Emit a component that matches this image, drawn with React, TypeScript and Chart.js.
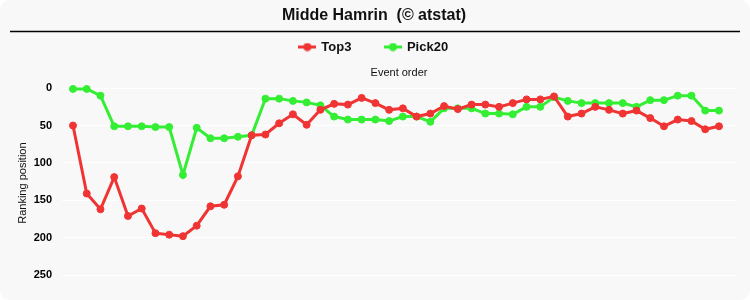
import React, { useEffect, useRef } from 'react';
import { Chart, registerables } from 'chart.js';

Chart.register(...registerables);

const chartTitle = 'Midde Hamrin  (© atstat)';
const xTitle = 'Event order';
const yTitle = 'Ranking position';

const events = [
  1, 2, 3, 4, 5, 6, 7, 8, 9, 10, 11, 12, 13, 14, 15, 16, 17, 18, 19, 20, 21, 22, 23, 24,
  25, 26, 27, 28, 29, 30, 31, 32, 33, 34, 35, 36, 37, 38, 39, 40, 41, 42, 43, 44, 45, 46, 47, 48,
];

const top3 = [
  50, 141, 162, 119, 171, 161, 194, 196, 198, 184,
  158, 156, 118, 63, 62, 47, 35, 49, 29, 21,
  22, 13, 20, 29, 27, 38, 34, 24, 28, 22,
  22, 25, 20, 15, 15, 11, 38, 34, 25, 29,
  34, 30, 40, 51, 42, 44, 55, 51,
];

const pick20 = [
  1, 1, 10, 51, 51, 51, 52, 52, 116, 53,
  67, 67, 65, 63, 14, 14, 17, 19, 23, 38,
  42, 42, 42, 44, 38, 38, 45, 27, 27, 27,
  34, 34, 35, 25, 25, 12, 17, 20, 20, 20,
  20, 25, 16, 16, 10, 10, 30, 30,
];

const yTicks = [0, 50, 100, 150, 200, 250];

const RED = 'rgb(240, 52, 52)';
const GREEN = 'rgb(52, 238, 52)';
const FONT = "'Liberation Sans', Arial, sans-serif";

function makeMarker(color: string): HTMLCanvasElement {
  const c = document.createElement('canvas');
  c.width = 18;
  c.height = 9;
  const ctx = c.getContext('2d')!;
  ctx.strokeStyle = color;
  ctx.lineWidth = 3;
  ctx.beginPath();
  ctx.moveTo(0, 4.5);
  ctx.lineTo(18, 4.5);
  ctx.stroke();
  ctx.fillStyle = color;
  ctx.beginPath();
  ctx.arc(9, 4.5, 4, 0, Math.PI * 2);
  ctx.fill();
  return c;
}

const titleLine = {
  id: 'titleLine',
  afterDraw(chart: any) {
    const ctx = chart.ctx;
    ctx.save();
    ctx.strokeStyle = '#000';
    ctx.lineWidth = 1.5;
    ctx.beginPath();
    ctx.moveTo(10, 31.5);
    ctx.lineTo(740, 31.5);
    ctx.stroke();
    ctx.restore();
  },
};

export default function App() {
  const ref = useRef<HTMLCanvasElement | null>(null);

  useEffect(() => {
    if (!ref.current) return;
    const markers = [makeMarker(RED), makeMarker(GREEN)];
    const chart = new Chart(ref.current, {
      type: 'line',
      data: {
        datasets: [
          {
            label: 'Top3',
            data: events.map((e, i) => ({ x: e, y: top3[i] })),
            borderColor: RED,
            backgroundColor: RED,
            borderWidth: 3,
            pointRadius: 3.5,
            pointBorderWidth: 1,
            pointBackgroundColor: RED,
            pointBorderColor: RED,
            tension: 0,
          },
          {
            label: 'Pick20',
            data: events.map((e, i) => ({ x: e, y: pick20[i] })),
            borderColor: GREEN,
            backgroundColor: GREEN,
            borderWidth: 3,
            pointRadius: 3.5,
            pointBorderWidth: 1,
            pointBackgroundColor: GREEN,
            pointBorderColor: GREEN,
            tension: 0,
          },
        ],
      },
      options: {
        animation: false,
        responsive: true,
        maintainAspectRatio: false,
        layout: { padding: { left: 12, right: 14, top: 0, bottom: 14.5 } },
        plugins: {
          title: {
            display: true,
            text: chartTitle,
            color: '#111',
            font: { family: FONT, size: 16, weight: 'bold' },
            padding: { top: 6, bottom: -18.7 },
          },
          legend: {
            display: true,
            position: 'top',
            labels: {
              usePointStyle: true,
              pointStyleWidth: 15,
              padding: 34,
              color: '#111',
              font: { family: FONT, size: 13, weight: 'bold' },
              generateLabels: (c: any) => {
                const items = Chart.defaults.plugins.legend.labels.generateLabels(c);
                return items.map((it: any, i: number) => ({ ...it, pointStyle: markers[i] }));
              },
            },
          },
          tooltip: { enabled: false },
        },
        scales: {
          x: {
            type: 'linear',
            position: 'top',
            min: 0.2,
            max: 49.24,
            grid: { display: false, drawTicks: false },
            border: { display: false },
            ticks: { display: false },
            title: {
              display: true,
              text: xTitle,
              color: '#111',
              font: { family: FONT, size: 11 },
              padding: { top: 3, bottom: 1 },
            },
          },
          y: {
            reverse: true,
            min: -10,
            max: 264,
            afterBuildTicks: (scale: any) => {
              scale.ticks = yTicks.map((v) => ({ value: v }));
            },
            afterFit: (scale: any) => {
              scale.width = 50;
              scale.paddingTop = 0;
              scale.paddingBottom = 0;
            },
            grid: { color: '#ffffff', lineWidth: 1, drawTicks: false },
            border: { display: false },
            ticks: {
              padding: 10,
              color: '#000',
              font: { family: FONT, size: 11, weight: 'bold' },
            },
            title: {
              display: true,
              text: yTitle,
              color: '#111',
              font: { family: FONT, size: 11 },
              padding: { top: 4, bottom: 4 },
            },
          },
        },
      },
      plugins: [titleLine],
    } as any);
    return () => chart.destroy();
  }, []);

  return (
    <div
      style={{
        position: 'absolute',
        left: 0,
        top: 0,
        width: 750,
        height: 300,
        background: '#f8f8f8',
        borderRadius: 10,
      }}
    >
      <canvas ref={ref} />
    </div>
  );
}
